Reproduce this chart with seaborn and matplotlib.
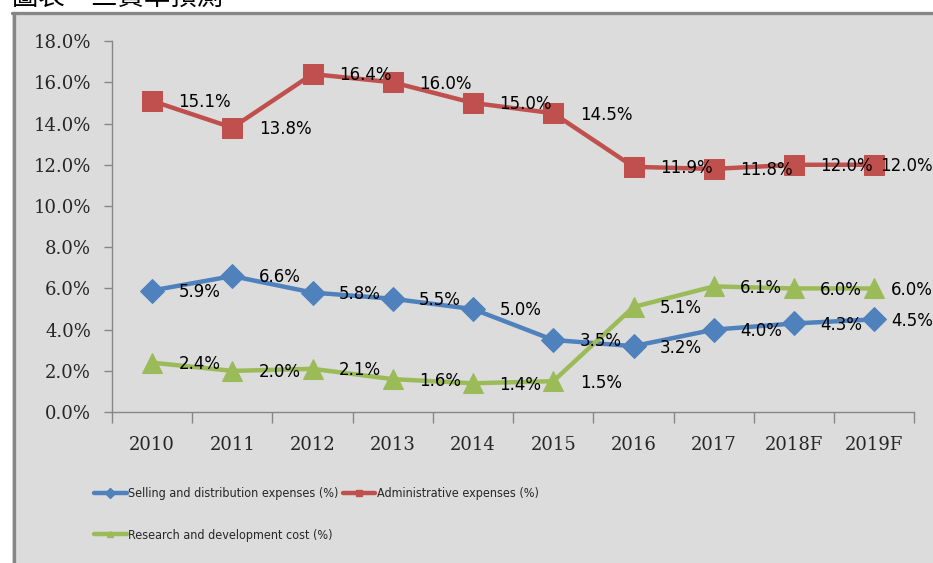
import seaborn as sns
import numpy as np
import pandas as pd
import matplotlib.pyplot as plt
from matplotlib import font_manager
from matplotlib.lines import Line2D
from matplotlib.patches import Rectangle
from matplotlib.ticker import FixedLocator, FuncFormatter

years = ['2010', '2011', '2012', '2013', '2014', '2015', '2016', '2017', '2018F', '2019F']
selling = [5.9, 6.6, 5.8, 5.5, 5.0, 3.5, 3.2, 4.0, 4.3, 4.5]
admin = [15.1, 13.8, 16.4, 16.0, 15.0, 14.5, 11.9, 11.8, 12.0, 12.0]
rnd = [2.4, 2.0, 2.1, 1.6, 1.4, 1.5, 5.1, 6.1, 6.0, 6.0]
names = ['Selling and distribution expenses (%)',
         'Administrative expenses (%)',
         'Research and development cost (%)']
title = '圖表　三費率預測'

df = pd.DataFrame({'year': years, names[0]: selling, names[1]: admin, names[2]: rnd})

sns.set_style('ticks')
plt.rcParams['font.family'] = ['DejaVu Sans', 'Noto Sans CJK TC']

# legend in the reference uses a condensed face; take one if there is any
leg_prop = {'family': 'Liberation Sans', 'size': 9}
for f in font_manager.fontManager.ttflist:
    if f.name == 'DejaVu Sans' and f.stretch == 'condensed' and f.weight == 400 and f.style == 'normal':
        leg_prop = {'family': 'DejaVu Sans', 'stretch': 'condensed', 'size': 9}
        break

fig = plt.figure(figsize=(9.33, 5.63), dpi=100)
fig.patch.set_facecolor('white')

# gray chart panel with dark border on left / top (cut off at right / bottom)
px, py = 1 / 933, 1 / 563
fig.add_artist(Rectangle((12 * px, 0), 1, 1 - 12 * py, transform=fig.transFigure,
                         facecolor='#dcdcdc', edgecolor='none', zorder=0))
fig.add_artist(Line2D([13.5 * px, 13.5 * px], [0, 1 - 13 * py], transform=fig.transFigure,
                      color='#868686', lw=2.4, zorder=1))
fig.add_artist(Line2D([12 * px, 1], [1 - 13 * py, 1 - 13 * py], transform=fig.transFigure,
                      color='#868686', lw=2.4, zorder=1))
# title sits mostly above the crop, only its lower part shows
fig.text(12 * px, 1 - 5 * py, title, fontsize=19, va='baseline', ha='left',
         family=['Noto Sans CJK TC', 'DejaVu Sans'], color='black')

ax = fig.add_axes([0.120, 0.268, 0.860, 0.659])
ax.patch.set_alpha(0)

colors = ['#4f81bd', '#c0504d', '#9bbb59']
markers = ['D', 's', '^']
msizes = [12, 14, 14]
last = len(years) - 1
for name, c, m, ms in zip(names, colors, markers, msizes):
    sns.lineplot(data=df, x='year', y=name, color=c, marker=m, markersize=ms,
                 markeredgecolor=c, linewidth=3.2, sort=False, ax=ax, clip_on=False)
    for i, v in enumerate(df[name]):
        if i == last:
            # pushed back inside the chart edge
            ax.annotate(f'{v:.1f}%', (1.0, v), xycoords=('figure fraction', 'data'),
                        xytext=(0, -1), textcoords='offset points',
                        ha='right', va='center', fontsize=12, color='black', zorder=5)
        else:
            ax.annotate(f'{v:.1f}%', (i, v), xytext=(19, -1), textcoords='offset points',
                        ha='left', va='center', fontsize=12, color='black', zorder=5)

ax.set_ylim(0, 18)
ax.set_xlim(-0.5, len(years) - 0.5)
ax.set_yticks(np.arange(0, 18.1, 2))
ax.yaxis.set_major_formatter(FuncFormatter(lambda v, p: f'{v:.1f}%'))
ax.xaxis.set_minor_locator(FixedLocator(np.arange(-0.5, len(years), 1.0)))
ax.tick_params(axis='x', which='major', length=0, pad=17)
ax.tick_params(axis='x', which='minor', length=8, width=1, color='#868686', direction='out')
ax.tick_params(axis='y', length=6, width=1, color='#868686', pad=9)
for lab in ax.get_xticklabels() + ax.get_yticklabels():
    lab.set_fontfamily('DejaVu Serif')
    lab.set_fontsize(13)
ax.set_xlabel('')
ax.set_ylabel('')
for s in ['top', 'right']:
    ax.spines[s].set_visible(False)
for s in ['left', 'bottom']:
    ax.spines[s].set_color('#868686')
    ax.spines[s].set_linewidth(1)
ax.grid(False)
if ax.get_legend():
    ax.get_legend().remove()

# legend: column-wise order gives row1 = selling, admin; row2 = r&d
handles = [Line2D([], [], color=c, marker=m, markersize=5, linewidth=3.2)
           for c, m in zip(colors, markers)]
order = [0, 2, 1]
fig.legend([handles[i] for i in order], [names[i] for i in order], ncol=2,
           loc='upper left', bbox_to_anchor=(94 * px, 1 - 487 * py), frameon=False,
           prop=leg_prop, handlelength=2.6, handletextpad=0.15, columnspacing=0.3,
           labelspacing=2.3, borderaxespad=0, borderpad=0)

fig.savefig('out.png', dpi=100, facecolor=fig.get_facecolor())
